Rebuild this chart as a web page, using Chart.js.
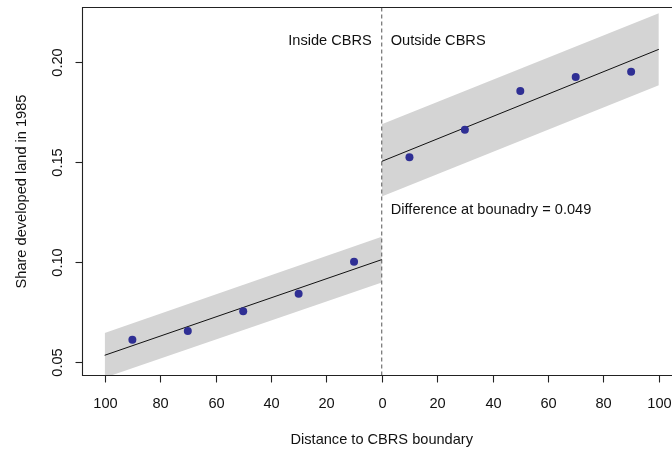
<!DOCTYPE html>
<html>
<head>
<meta charset="utf-8">
<script src="https://cdn.jsdelivr.net/npm/chart.js@4.4.1/dist/chart.umd.min.js"></script>
<style>
  html, body { margin: 0; padding: 0; background: #fff; overflow: hidden; }
  #wrap { width: 700px; height: 451px; }
</style>
</head>
<body>
<div id="wrap"><canvas id="rdChart" width="700" height="451"></canvas></div>
<script>
// --- data ---
const insideX = [-90, -70, -50, -30, -10];
const insideY = [0.0611, 0.0655, 0.0753, 0.0841, 0.1000];
const outsideX = [10, 30, 50, 70, 90];
const outsideY = [0.1523, 0.1660, 0.1854, 0.1924, 0.1950];

// fitted lines and confidence bands (endpoints)
const insideLineX = [-100, 0];
const insideFit = [0.0533, 0.1011];
const insideUpper = [0.0645, 0.1125];
const insideLower = [0.0421, 0.0897];
const outsideLineX = [0, 100];
const outsideFit = [0.1502, 0.2062];
const outsideUpper = [0.1688, 0.2242];
const outsideLower = [0.1327, 0.1882];

// axes
const xLimits = [-108, 108];
const yLimits = [0.0432, 0.2271];
const xTicks = [-100, -80, -60, -40, -20, 0, 20, 40, 60, 80, 100];
const yTicks = [0.05, 0.10, 0.15, 0.20];

const colors = {
    point: '#2f2f94',
    band: '#d4d4d4',
    line: '#111111',
    axis: '#222222',
    text: '#111111'
};
const font = '14.6px "Liberation Sans", Arial, sans-serif';

const zip = (xs, ys) => xs.map((x, i) => ({ x: x, y: ys[i] }));

const lineSet = (xs, ys) => ({
    data: zip(xs, ys), showLine: true, pointRadius: 0,
    borderColor: colors.line, borderWidth: 1, fill: false
});
const bandSet = (xs, ys, fill) => ({
    data: zip(xs, ys), showLine: true, pointRadius: 0,
    borderWidth: 0, borderColor: 'rgba(0,0,0,0)',
    backgroundColor: colors.band, fill: fill
});

// axis box, ticks, labels and notes
const frame = {
    id: 'frame',
    afterDraw(chart) {
        const { ctx, chartArea: a, scales: { x, y } } = chart;
        ctx.save();
        ctx.strokeStyle = colors.axis;
        ctx.lineWidth = 1.1;
        ctx.beginPath();
        ctx.rect(a.left, a.top, a.right - a.left, a.bottom - a.top);
        ctx.stroke();

        ctx.fillStyle = colors.text;
        ctx.font = font;

        // x ticks
        ctx.textAlign = 'center';
        ctx.textBaseline = 'middle';
        xTicks.forEach(v => {
            const px = Math.round(x.getPixelForValue(v)) + 0.5;
            ctx.beginPath();
            ctx.moveTo(px, a.bottom);
            ctx.lineTo(px, a.bottom + 7);
            ctx.stroke();
            ctx.fillText(String(Math.abs(v)), px, 404);
        });
        ctx.fillText('Distance to CBRS boundary', (a.left + a.right) / 2, 440);

        // y ticks (rotated labels)
        yTicks.forEach(v => {
            const py = Math.round(y.getPixelForValue(v)) + 0.5;
            ctx.beginPath();
            ctx.moveTo(a.left, py);
            ctx.lineTo(a.left - 7, py);
            ctx.stroke();
            ctx.save();
            ctx.translate(57.5, py);
            ctx.rotate(-Math.PI / 2);
            ctx.fillText(v.toFixed(2), 0, 0);
            ctx.restore();
        });
        ctx.save();
        ctx.translate(22, (a.top + a.bottom) / 2);
        ctx.rotate(-Math.PI / 2);
        ctx.fillText('Share developed land in 1985', 0, 0);
        ctx.restore();

        // notes beside the boundary
        const x0 = x.getPixelForValue(0);
        ctx.textAlign = 'right';
        ctx.fillText('Inside CBRS', x0 - 10, y.getPixelForValue(0.2105));
        ctx.textAlign = 'left';
        ctx.fillText('Outside CBRS', x0 + 9, y.getPixelForValue(0.2105));
        ctx.fillText('Difference at bounadry = 0.049', x0 + 9, y.getPixelForValue(0.126));
        ctx.restore();
    }
};

new Chart(document.getElementById('rdChart'), {
    type: 'scatter',
    data: {
        datasets: [
            {
                data: zip(insideX, insideY), pointRadius: 4,
                pointBackgroundColor: colors.point, pointBorderWidth: 0
            },
            {
                data: zip(outsideX, outsideY), pointRadius: 4,
                pointBackgroundColor: colors.point, pointBorderWidth: 0
            },
            lineSet(insideLineX, insideFit),
            lineSet(outsideLineX, outsideFit),
            {
                // boundary at zero distance
                data: zip([0, 0], yLimits), showLine: true, pointRadius: 0,
                borderColor: '#555', borderWidth: 1, borderDash: [4, 3], fill: false
            },
            bandSet(insideLineX, insideUpper, false),
            bandSet(insideLineX, insideLower, '-1'),
            bandSet(outsideLineX, outsideUpper, false),
            bandSet(outsideLineX, outsideLower, '-1')
        ]
    },
    options: {
        responsive: false,
        animation: false,
        layout: { padding: { left: 82.5, right: 19, top: 7.5, bottom: 75.5 } },
        scales: {
            x: { type: 'linear', min: xLimits[0], max: xLimits[1], display: false },
            y: { type: 'linear', min: yLimits[0], max: yLimits[1], display: false }
        },
        plugins: {
            legend: { display: false },
            tooltip: { enabled: false },
            filler: { drawTime: 'beforeDatasetsDraw' }
        }
    },
    plugins: [frame]
});
</script>
</body>
</html>
